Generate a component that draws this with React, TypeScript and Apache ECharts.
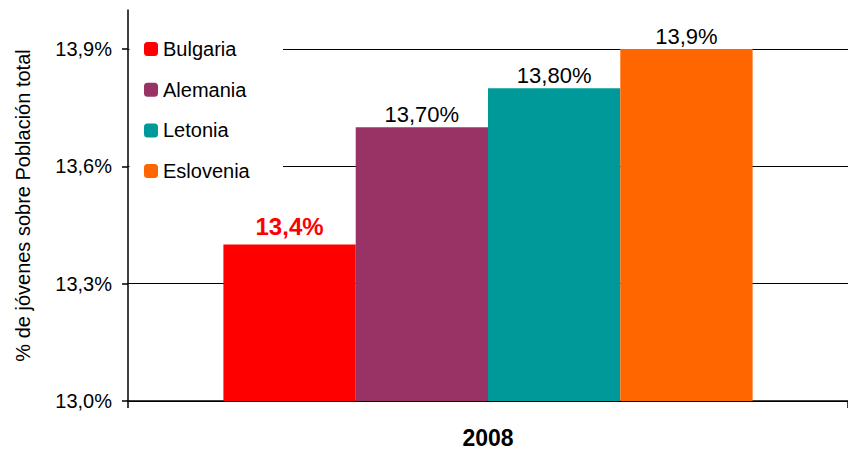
import React, { useEffect, useRef } from "react";
import * as echarts from "echarts";

const categories = ["2008"];
const seriesNames = ["Bulgaria", "Alemania", "Letonia", "Eslovenia"];
const seriesValues = [13.4, 13.7, 13.8, 13.9];
const valueLabels = ["13,4%", "13,70%", "13,80%", "13,9%"];
const seriesColors = ["#FF0000", "#993366", "#009999", "#FF6600"];
const yTicks = [13.0, 13.3, 13.6, 13.9];
const yTickLabels = ["13,0%", "13,3%", "13,6%", "13,9%"];
const yAxisTitle = "% de jóvenes sobre Población total";

const FONT = "'Liberation Sans', Arial, sans-serif";

export default function App() {
  const ref = useRef<HTMLDivElement>(null);
  useEffect(() => {
    if (!ref.current) return;
    const chart = echarts.init(ref.current, null, { renderer: "svg" });
    const series = seriesNames.map((name, i) => ({
      name,
      type: "bar",
      data: [seriesValues[i]],
      barWidth: 132.3,
      barGap: "0%",
      itemStyle: { color: seriesColors[i] },
      label: {
        show: true,
        position: "top",
        distance: i === 0 ? 6 : 2,
        formatter: () => valueLabels[i],
        fontFamily: FONT,
        fontSize: i === 0 ? 24 : 22,
        fontWeight: i === 0 ? "bold" : "normal",
        color: i === 0 ? "#FF0000" : "#000000",
      },
    }));
    chart.setOption({
      animation: false,
      backgroundColor: "#ffffff",
      textStyle: { fontFamily: FONT },
      grid: { left: 128, right: -6, top: 10, bottom: 46.3, containLabel: false },
      legend: {
        orient: "vertical",
        left: 144,
        top: 39,
        padding: 0,
        itemWidth: 14,
        itemHeight: 14,
        itemGap: 20.7,
        icon: "roundRect",
        data: seriesNames,
        textStyle: { fontFamily: FONT, fontSize: 20, color: "#000", lineHeight: 20, padding: [0, 0, 0, 0] },
        z: 5,
      },
      graphic: [
        {
          type: "rect",
          shape: { x: 129.5, y: 25, width: 153.5, height: 170 },
          style: { fill: "#ffffff" },
          z: 3,
          silent: true,
        },
      ],
      xAxis: {
        type: "category",
        data: categories,
        axisLine: { lineStyle: { color: "#000", width: 1.5 } },
        axisTick: { show: true, length: 7, lineStyle: { color: "#000", width: 1.5 } },
        axisLabel: { fontFamily: FONT, fontSize: 23, fontWeight: "bold", color: "#000", margin: 25 },
      },
      yAxis: {
        type: "value",
        min: 13.0,
        max: 14.0,
        name: yAxisTitle,
        nameLocation: "middle",
        nameGap: 95,
        nameTextStyle: { fontFamily: FONT, fontSize: 20, color: "#000" },
        axisLine: { show: true, lineStyle: { color: "#000", width: 1.5 } },
        axisTick: { show: true, length: 6, customValues: yTicks, lineStyle: { color: "#000", width: 1.5 } },
        axisLabel: {
          customValues: yTicks,
          margin: 16,
          fontFamily: FONT,
          fontSize: 20,
          color: "#000",
          formatter: (v: number) => {
            const idx = yTicks.findIndex((t) => Math.abs(t - v) < 1e-6);
            return idx >= 0 ? yTickLabels[idx] : "";
          },
        },
        splitLine: { show: true, lineStyle: { color: "#000", width: 1.2 } },
      },
      series,
    });
    return () => chart.dispose();
  }, []);
  return <div ref={ref} style={{ width: 848, height: 449, position: "absolute", left: 0, top: 0 }} />;
}
